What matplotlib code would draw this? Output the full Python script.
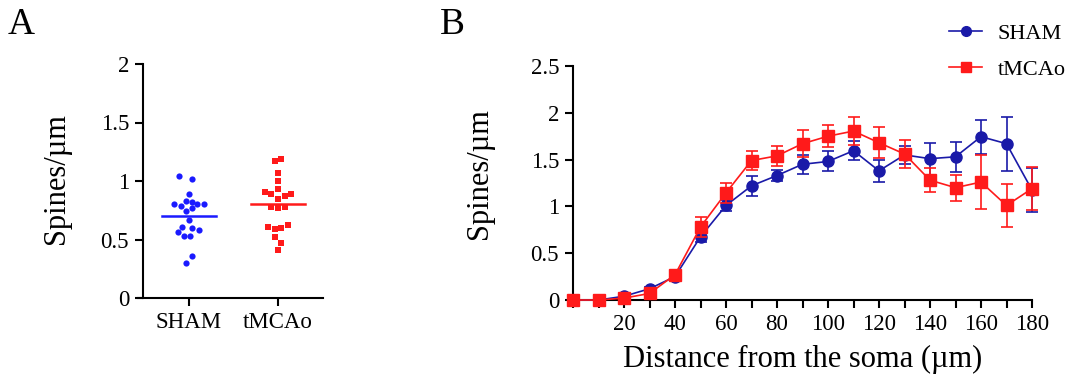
import matplotlib
matplotlib.use('Agg')
import matplotlib.pyplot as plt
from matplotlib.lines import Line2D
import numpy as np

plt.rcParams['font.family'] = ['Liberation Serif', 'DejaVu Serif']

# Panel A: spine density per neuron
groups = ['SHAM', 'tMCAo']
sham_pts = [1.04, 1.02, 0.89, 0.83, 0.82, 0.80, 0.785, 0.80, 0.80, 0.745,
            0.765, 0.67, 0.61, 0.60, 0.56, 0.53, 0.53, 0.58, 0.355, 0.30]
sham_x = [-0.15, 0.05, 0.0, -0.05, 0.05, -0.22, -0.12, 0.12, 0.22, -0.05,
          0.05, 0.0, -0.1, 0.05, -0.17, -0.08, 0.02, 0.15, 0.04, -0.05]
tmcao_pts = [1.19, 1.17, 1.07, 1.00, 0.93, 0.91, 0.89, 0.89, 0.87, 0.85,
             0.78, 0.77, 0.78, 0.61, 0.59, 0.60, 0.62, 0.52, 0.47, 0.41]
tmcao_x = [0.05, -0.05, 0.0, 0.0, 0.0, -0.2, -0.1, 0.2, 0.1, 0.0,
           -0.1, 0.0, 0.1, -0.15, -0.05, 0.05, 0.15, -0.05, 0.05, 0.0]
sham_mean = 0.70
tmcao_mean = 0.805

# Panel B: spine density vs distance from soma
distance = [0, 10, 20, 30, 40, 50, 60, 70, 80, 90, 100, 110, 120, 130, 140, 150, 160, 170, 180]
sham_mean_b = [0, 0, 0.04, 0.12, 0.25, 0.675, 1.01, 1.22, 1.33, 1.45, 1.48, 1.595, 1.38,
               1.55, 1.51, 1.53, 1.745, 1.67, 1.175]
sham_err_b = [0, 0, 0.02, 0.02, 0.04, 0.06, 0.06, 0.11, 0.06, 0.10, 0.107, 0.10, 0.115,
              0.10, 0.17, 0.16, 0.18, 0.29, 0.24]
tmcao_mean_b = [0, 0, 0.02, 0.07, 0.27, 0.78, 1.145, 1.49, 1.54, 1.67, 1.75, 1.805, 1.68,
                1.56, 1.28, 1.20, 1.26, 1.01, 1.19]
tmcao_err_b = [0, 0, 0.02, 0.02, 0.04, 0.11, 0.11, 0.10, 0.11, 0.146, 0.12, 0.15, 0.165,
               0.15, 0.13, 0.14, 0.29, 0.23, 0.23]

sham_col_a = '#1a1aff'
sham_col_b = '#1a1aa8'
tmcao_col = '#ff1a1a'

fig = plt.figure(figsize=(10.67, 3.83), dpi=100)

# ---- Panel A ----
axA = fig.add_axes([138 / 1067, 85 / 383, 185 / 1067, 234 / 383])
axA.scatter(np.array(sham_x) * 0.75, sham_pts, s=20, color=sham_col_a, marker='o',
            linewidths=0, zorder=3)
axA.scatter(1 + np.array(tmcao_x) * 0.75, tmcao_pts, s=22, color=tmcao_col, marker='s',
            linewidths=0, zorder=3)
axA.plot([-0.3, 0.3], [sham_mean, sham_mean], color=sham_col_a, lw=1.8)
axA.plot([0.7, 1.3], [tmcao_mean, tmcao_mean], color=tmcao_col, lw=1.8)
axA.set_xlim(-0.573, 1.506)
axA.set_ylim(0, 2)
axA.set_yticks([0, 0.5, 1, 1.5, 2])
axA.set_yticklabels(['0', '0.5', '1', '1.5', '2'])
axA.set_xticks([0, 1])
axA.set_xticklabels(groups)
axA.spines['left'].set_position(('data', -0.517))
axA.set_ylabel('Spines/\u00b5m', fontsize=22)
axA.yaxis.set_label_coords(-0.36, 0.51)

# ---- Panel B ----
axB = fig.add_axes([573 / 1067, 83 / 383, 459 / 1067, 234 / 383])
axB.errorbar(distance, sham_mean_b, yerr=sham_err_b, color=sham_col_b, marker='o',
             markersize=8, lw=1.2, capsize=4, elinewidth=1.2, capthick=1.2,
             clip_on=False, zorder=3)
axB.errorbar(distance, tmcao_mean_b, yerr=tmcao_err_b, color=tmcao_col, marker='s',
             markersize=8, lw=1.2, capsize=4, elinewidth=1.2, capthick=1.2,
             clip_on=False, zorder=4)
axB.set_xlim(0, 180)
axB.set_ylim(0, 2.5)
axB.set_xticks(range(0, 181, 10))
axB.set_xticklabels(['' if (d == 0 or d % 20) else str(d) for d in range(0, 181, 10)])
axB.set_yticks([0, 0.5, 1, 1.5, 2, 2.5])
axB.set_yticklabels(['0', '0.5', '1', '1.5', '2', '2.5'])
axB.set_ylabel('Spines/\u00b5m', fontsize=22)
axB.yaxis.set_label_coords(-0.172, 0.54)
axB.set_xlabel('Distance from the soma (\u00b5m)', fontsize=22, labelpad=7)

handles = [Line2D([], [], color=sham_col_b, marker='o', markersize=7, lw=1.2),
           Line2D([], [], color=tmcao_col, marker='s', markersize=7, lw=1.2)]
axB.legend(handles, ['SHAM', 'tMCAo'], loc='upper left', bbox_to_anchor=(0.80, 1.22),
           frameon=False, fontsize=16, handlelength=1.5, handletextpad=0.7,
           labelspacing=0.68, borderaxespad=0)

for ax in (axA, axB):
    ax.spines['top'].set_visible(False)
    ax.spines['right'].set_visible(False)
    ax.spines['left'].set_linewidth(1.5)
    ax.spines['bottom'].set_linewidth(1.5)
    ax.tick_params(axis='both', direction='out', length=6, width=1.5, labelsize=16.5,
                   pad=4)

fig.text(8 / 1067, 1 - 34 / 383, 'A', fontsize=27)
fig.text(440 / 1067, 1 - 34 / 383, 'B', fontsize=27)

fig.savefig('out.png', dpi=100)
